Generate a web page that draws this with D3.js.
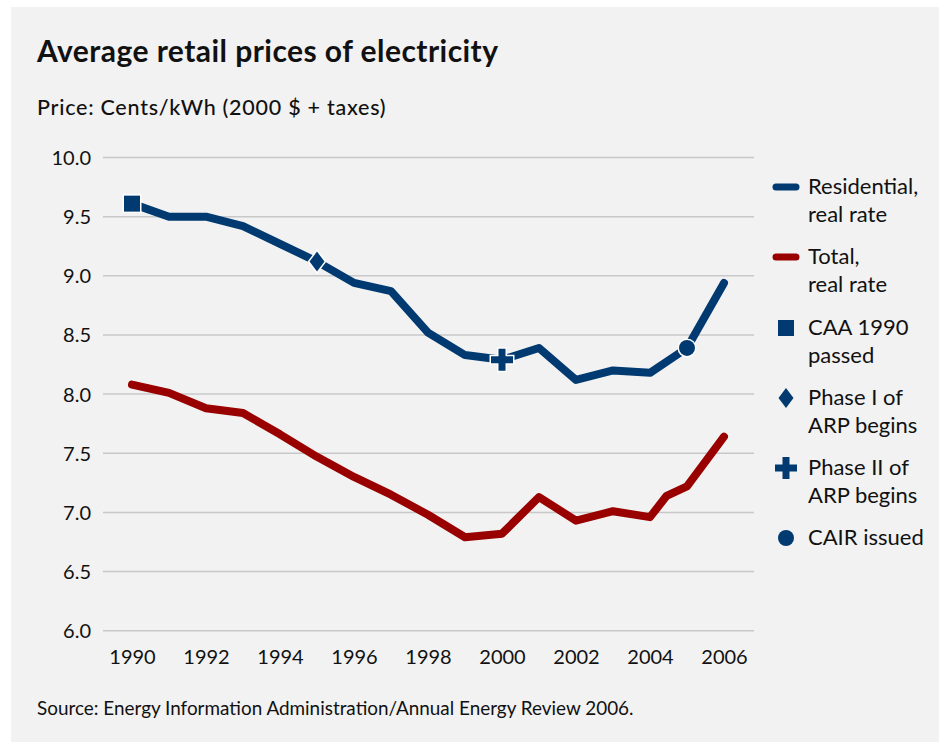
<!DOCTYPE html>
<html>
<head>
<meta charset="utf-8">
<script src="https://cdn.jsdelivr.net/npm/d3@7"></script>
<style>
  html, body { margin: 0; padding: 0; background: #ffffff; }
  svg { display: block; }
  text { font-family: Lato, "Open Sans", "Noto Sans", sans-serif; fill: #111; }
</style>
</head>
<body>
<svg id="chart" width="939" height="742"></svg>
<script>
// ---- Data ----
const years = [1990, 1991, 1992, 1993, 1994, 1995, 1996, 1997, 1998, 1999, 2000, 2001, 2002, 2003, 2004, 2005, 2006];
const residential = [9.61, 9.50, 9.50, 9.42, 9.27, 9.12, 8.94, 8.87, 8.52, 8.33, 8.29, 8.39, 8.12, 8.20, 8.18, 8.39, 8.94];
const totalYears = [1990, 1991, 1992, 1993, 1994, 1995, 1996, 1997, 1998, 1999, 2000, 2001, 2002, 2003, 2004, 2004.45, 2005, 2006];
const total = [8.08, 8.01, 7.88, 7.84, 7.66, 7.47, 7.30, 7.15, 6.98, 6.79, 6.82, 7.13, 6.93, 7.01, 6.96, 7.14, 7.22, 7.64];
const yTicks = [6.0, 6.5, 7.0, 7.5, 8.0, 8.5, 9.0, 9.5, 10.0];
const xTicks = [1990, 1992, 1994, 1996, 1998, 2000, 2002, 2004, 2006];
const events = [
  { year: 1990, type: "square", label: ["CAA 1990", "passed"] },
  { year: 1995, type: "diamond", label: ["Phase I of", "ARP begins"] },
  { year: 2000, type: "plus", label: ["Phase II of", "ARP begins"] },
  { year: 2005, type: "circle", label: ["CAIR issued"] }
];
const seriesLegend = [
  { name: ["Residential,", "real rate"], color: "#003a70" },
  { name: ["Total,", "real rate"], color: "#990000" }
];

const BLUE = "#003a70", RED = "#990000";

const svg = d3.select("#chart");
// card background
svg.append("rect").attr("x", 11).attr("y", 7).attr("width", 939 - 11).attr("height", 742 - 7).attr("fill", "#f2f2f2");

const x = d3.scaleLinear().domain([1990, 2006]).range([132, 724]);
const y = d3.scaleLinear().domain([6, 10]).range([630.7, 157.5]);

// Title & subtitle
svg.append("text").attr("x", 37).attr("y", 62).attr("font-size", 30).attr("font-weight", 700)
  .attr("letter-spacing", 0.45).text("Average retail prices of electricity");
svg.append("text").attr("x", 37).attr("y", 115).attr("font-size", 21.5).attr("font-weight", 500)
  .attr("letter-spacing", 0.75).text("Price: Cents/kWh (2000 $ + taxes)");

// gridlines
const g = svg.append("g");
g.selectAll("line.grid").data(yTicks).join("line")
  .attr("x1", 103).attr("x2", 754)
  .attr("y1", d => y(d)).attr("y2", d => y(d))
  .attr("stroke", "#c8c8c8").attr("stroke-width", 1.5);

// y axis labels
const yAxis = d3.axisLeft(y).tickValues(yTicks).tickFormat(d3.format(".1f")).tickSize(0).tickPadding(0);
const ya = svg.append("g").attr("transform", "translate(91,0)").call(yAxis);
ya.select(".domain").remove();
ya.selectAll("text").attr("font-size", 20).attr("fill", "#111").attr("dy", "0.35em")
  .style("font-family", "Lato, 'Open Sans', sans-serif");

// x axis labels
const xAxis = d3.axisBottom(x).tickValues(xTicks).tickFormat(d3.format("d")).tickSize(0).tickPadding(0);
const xa = svg.append("g").attr("transform", "translate(0,650)").call(xAxis);
xa.select(".domain").remove();
xa.selectAll("text").attr("font-size", 20).attr("fill", "#111").attr("dy", "0.71em")
  .style("font-family", "Lato, 'Open Sans', sans-serif");

// lines
const line = d3.line().x(d => x(d[0])).y(d => y(d[1]));
svg.append("path").datum(totalYears.map((t, i) => [t, total[i]]))
  .attr("d", line).attr("fill", "none").attr("stroke", RED).attr("stroke-width", 8)
  .attr("stroke-linejoin", "round").attr("stroke-linecap", "round");
svg.append("path").datum(years.map((t, i) => [t, residential[i]]))
  .attr("d", line).attr("fill", "none").attr("stroke", BLUE).attr("stroke-width", 8)
  .attr("stroke-linejoin", "round").attr("stroke-linecap", "round");

// markers
function drawMarker(sel, type, cx, cy, halo) {
  const grp = sel.append("g").attr("transform", `translate(${cx},${cy})`);
  let shape;
  if (type === "square") {
    shape = grp.append("rect").attr("x", -8).attr("y", -8).attr("width", 16).attr("height", 16);
  } else if (type === "diamond") {
    shape = grp.append("path").attr("d", "M0,-10 L7.5,0 L0,10 L-7.5,0 Z");
  } else if (type === "plus") {
    shape = grp.append("path").attr("d", "M-3.5,-11 H3.5 V-3.5 H11 V3.5 H3.5 V11 H-3.5 V3.5 H-11 V-3.5 H-3.5 Z");
  } else {
    shape = grp.append("circle").attr("r", 8);
  }
  shape.attr("fill", BLUE);
  if (halo) shape.attr("stroke", "#ffffff").attr("stroke-width", 3).attr("paint-order", "stroke");
}
events.forEach(ev => {
  const v = residential[years.indexOf(ev.year)];
  drawMarker(svg, ev.type, x(ev.year), y(v), true);
});

// legend
const lg = svg.append("g");
const lx = 808;
seriesLegend.forEach((s, i) => {
  const by = 194 + i * 70;
  lg.append("line").attr("x1", 776).attr("x2", 796).attr("y1", by - 7).attr("y2", by - 7)
    .attr("stroke", s.color).attr("stroke-width", 7).attr("stroke-linecap", "round");
  s.name.forEach((t, j) => lg.append("text").attr("x", lx).attr("y", by + j * 28).attr("font-size", 22).text(t));
});
const evY = [335, 405, 475, 545];
events.forEach((ev, i) => {
  drawMarker(lg, ev.type, 786, evY[i] - 7, false);
  ev.label.forEach((t, j) => lg.append("text").attr("x", lx).attr("y", evY[i] + j * 28).attr("font-size", 22).text(t));
});

// source
svg.append("text").attr("x", 37).attr("y", 715).attr("font-size", 18.9)
  .text("Source: Energy Information Administration/Annual Energy Review 2006.");
</script>
</body>
</html>
